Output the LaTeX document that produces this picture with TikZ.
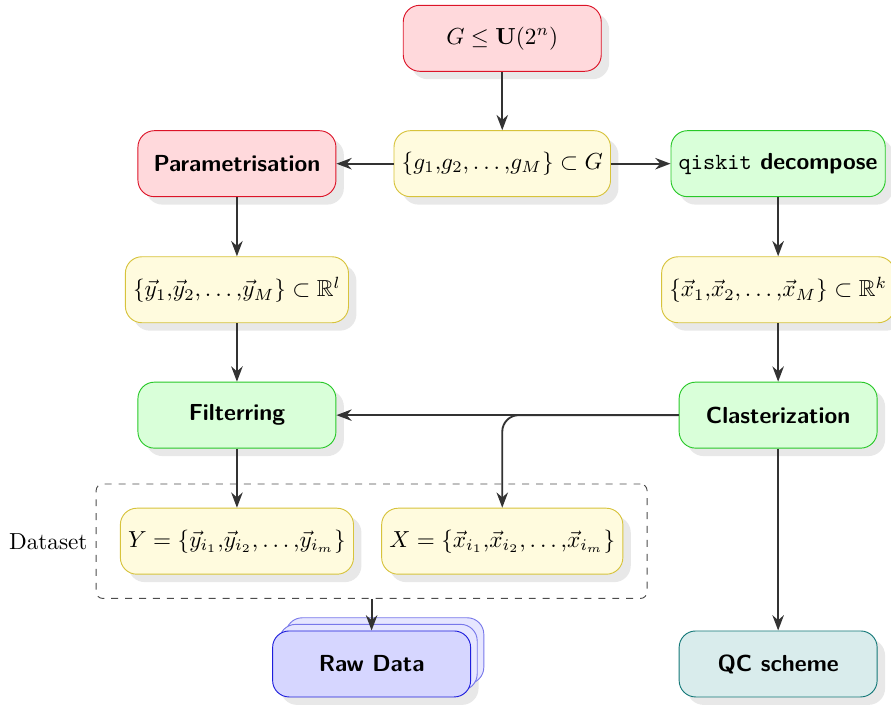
\documentclass[tikz,border=0pt]{standalone}
\usepackage{amsmath,amssymb}
\usepackage{tikz}
\usepackage{xcolor}
\usetikzlibrary{shapes.geometric, positioning, shadows, fit, arrows.meta}
\definecolor{boxred}{RGB}{255, 217, 220}
\definecolor{linered}{RGB}{220, 20, 40}
\definecolor{boxyellow}{RGB}{255, 251, 222}
\definecolor{lineyellow}{RGB}{215, 195, 60}
\definecolor{boxgreen}{RGB}{217, 255, 217}
\definecolor{linegreen}{RGB}{40, 200, 40}
\definecolor{boxblue}{RGB}{214, 214, 255}
\definecolor{lineblue}{RGB}{30, 30, 220}
\definecolor{boxteal}{RGB}{217, 236, 236}
\definecolor{lineteal}{RGB}{20, 120, 120}

\begin{document}
\begin{tikzpicture}[
  font=\sffamily\bfseries,
  block/.style={
    draw,
    rounded corners=0.25cm,
    minimum width=3cm,
    minimum height=1cm,
    align=center,
    drop shadow={opacity=0.18, shadow xshift=0.12cm, shadow yshift=-0.12cm},
  },
  redbox/.style={block, draw=linered, fill=boxred},
  yellowbox/.style={block, draw=lineyellow, fill=boxyellow},
  greenbox/.style={block, draw=linegreen, fill=boxgreen},
  bluebox/.style={block, draw=lineblue, fill=boxblue},
  tealbox/.style={block, draw=lineteal, fill=boxteal},
  datasetbox/.style={
    draw=black!70,
    dashed,
    rounded corners=0.1cm,
    inner sep=0.36cm,
  },
  flow/.style={-Stealth, thick, black!80}
]
  \useasboundingbox (0, 0) rectangle (13.5, -10.712);

  % Group
  \node[redbox] (group) at (7.61, -0.58) {$G \leq \mathbf{U}(2^n)$};
  \node[yellowbox] (gset) at (7.61, -2.48) {$\{g_1{,}g_2{,}\dots{,}g_M\} \subset G$};

  % Left branch
  \node[redbox] (param) at (3.59, -2.48) {Parametrisation};
  \node[yellowbox] (yset) at (3.59, -4.39) {$\{\vec{y}_1{,}\vec{y}_2{,}\dots{,}\vec{y}_M\} \subset \mathbb{R}^l$};
  \node[greenbox] (filt) at (3.59, -6.29) {Filterring};

  % Right branch
  \node[greenbox] (qiskit) at (11.79, -2.48) {{\normalfont\ttfamily qiskit} decompose};
  \node[yellowbox] (xset) at (11.79, -4.39) {$\{\vec{x}_1{,}\vec{x}_2{,}\dots{,}\vec{x}_M\} \subset \mathbb{R}^k$};
  \node[greenbox] (clast) at (11.79, -6.29) {Clasterization};
  \node[tealbox] (qc) at (11.79, -10.06) {QC scheme};

  % Dataset
  \node[yellowbox] (ysub) at (3.59, -8.2) {$Y = \{\vec{y}_{i_1}{,}\vec{y}_{i_2}{,}\dots{,}\vec{y}_{i_m}\}$};
  \node[yellowbox] (xsub) at (7.61, -8.2) {$X = \{\vec{x}_{i_1}{,}\vec{x}_{i_2}{,}\dots{,}\vec{x}_{i_m}\}$};
  \node[datasetbox, fit=(ysub)(xsub), label={[font=\normalfont]left:Dataset}] (dataset) {};

  % Raw Data
  \node[bluebox, double copy shadow={shadow xshift=0.1cm, shadow yshift=0.1cm, fill=boxblue!60, draw=lineblue!60, opacity=1}] (raw) at (dataset.south |- 0, -10.06) {Raw Data};

  % Connections
  \draw[flow] (group) -- (gset);
  \draw[flow] (gset) -- (param);
  \draw[flow] (gset) -- (qiskit);
  \draw[flow] (param) -- (yset);
  \draw[flow] (yset) -- (filt);
  \draw[flow] (qiskit) -- (xset);
  \draw[flow] (xset) -- (clast);
  \draw[flow] (clast) -- (filt);
  \draw[flow, rounded corners=0.25cm] (clast.west) -| (xsub.north);
  \draw[flow] (clast) -- (qc);
  \draw[flow] (filt) -- (ysub);
  \draw[flow] (dataset.south) -- (raw.north);

\end{tikzpicture}
\end{document}
